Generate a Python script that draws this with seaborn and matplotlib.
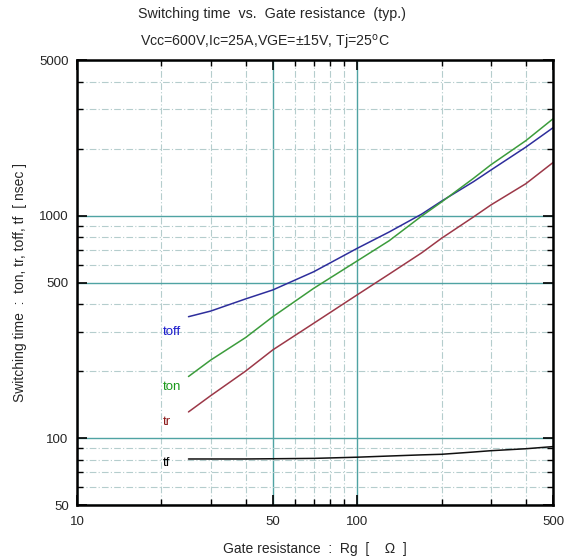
import numpy as np
import matplotlib
import matplotlib.pyplot as plt
plt.switch_backend('agg')
import matplotlib.ticker as mticker
import pandas as pd
import seaborn as sns

import warnings
warnings.filterwarnings('ignore')

# values (Rg in ohm, times in nsec)
rg = [25, 30, 40, 50, 70, 100, 130, 170, 200, 260, 300, 400, 500]
toff = [351, 372, 422, 463, 559, 712, 843, 1015, 1160, 1419, 1600, 2030, 2480]
ton = [189, 224, 283, 351, 471, 625, 770, 995, 1150, 1469, 1690, 2170, 2720]
tr = [131, 155, 200, 249, 328, 440, 545, 680, 790, 985, 1115, 1390, 1730]
tf = [80.5, 80.5, 80.5, 80.7, 81, 82, 83, 84, 84.5, 86.5, 87.7, 89.5, 91.5]

x_major = [10, 50, 100, 500]
x_minor = [20, 30, 40, 60, 70, 80, 90, 200, 300, 400]
y_major = [50, 100, 500, 1000, 5000]
y_minor = [60, 70, 80, 90, 200, 300, 400, 600, 700, 800, 900, 2000, 3000, 4000]

series = {'toff': toff, 'ton': ton, 'tr': tr, 'tf': tf}
colors = {'toff': '#2e2e9c', 'ton': '#3c9c3c', 'tr': '#9c3848', 'tf': '#101010'}
label_colors = {'toff': '#1a1acc', 'ton': '#1a991a', 'tr': '#8c1a1a', 'tf': '#000000'}
label_pos = {'toff': 300, 'ton': 170, 'tr': 118, 'tf': 77}

sns.set_style('ticks')
plt.rcParams['font.family'] = ['Liberation Sans', 'DejaVu Sans']

fig = plt.figure(figsize=(5.65, 5.6), dpi=100)
ax = fig.add_axes([77/565, 1-505/560, 476/565, 445/560])

for name, vals in series.items():
    sns.lineplot(x=rg, y=vals, ax=ax, color=colors[name], lw=1.1)
    ax.text(20.3, label_pos[name], name, color=label_colors[name], fontsize=9.5,
            ha='left', va='center')

ax.set_xscale('log')
ax.set_yscale('log')
ax.set_xlim(10, 500)
ax.set_ylim(50, 5000)

ax.xaxis.set_major_locator(mticker.FixedLocator(x_major))
ax.xaxis.set_minor_locator(mticker.FixedLocator(x_minor))
ax.yaxis.set_major_locator(mticker.FixedLocator(y_major))
ax.yaxis.set_minor_locator(mticker.FixedLocator(y_minor))
ax.xaxis.set_major_formatter(mticker.FixedFormatter([str(v) for v in x_major]))
ax.yaxis.set_major_formatter(mticker.FixedFormatter([str(v) for v in y_major]))
ax.xaxis.set_minor_formatter(mticker.NullFormatter())
ax.yaxis.set_minor_formatter(mticker.NullFormatter())

ax.grid(which='major', color='#4fa3a3', lw=1.0, ls='-')
ax.grid(which='minor', color='#b5cdcd', lw=0.8, ls=(0, (6, 2, 1, 2)))
ax.set_axisbelow(True)

ax.tick_params(which='both', direction='in', top=True, right=True, color='black')
ax.tick_params(which='major', length=7, width=1.2, labelsize=9.5)
ax.tick_params(axis='x', which='major', pad=8)
ax.tick_params(axis='y', which='major', pad=6)
ax.tick_params(which='minor', length=4, width=1.0)
for s in ax.spines.values():
    s.set_linewidth(1.8)
    s.set_color('black')

ax.set_xlabel('Gate resistance  :  Rg  [    \u03a9  ]', fontsize=10, labelpad=10)
ax.set_ylabel('Switching time  :  ton, tr, toff, tf  [ nsec ]', fontsize=10, labelpad=9)

fig.text(272/565, 1-14/560, 'Switching time  vs.  Gate resistance  (typ.)',
         ha='center', va='center', fontsize=10.3)
fig.text(265/565, 1-42/560, 'Vcc=600V,Ic=25A,VGE=\u00b115V, Tj=25$^{\\rm o}$C',
         ha='center', va='center', fontsize=10.2)

fig.savefig('out.png', dpi=100)
